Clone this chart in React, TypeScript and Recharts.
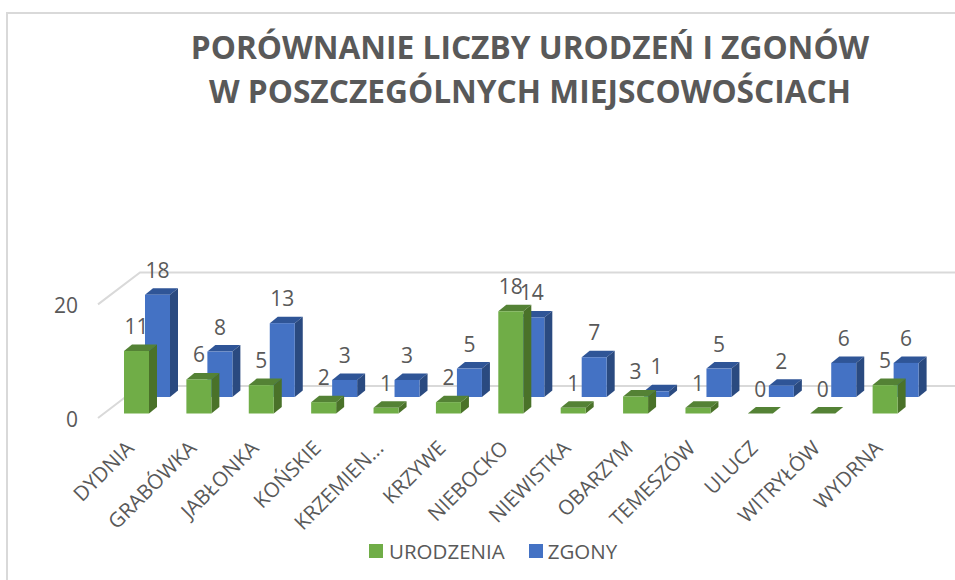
import React from "react";
import { BarChart, Bar, XAxis, YAxis, Legend, LabelList, CartesianGrid } from "recharts";

const categories = ["DYDNIA", "GRABÓWKA", "JABŁONKA", "KOŃSKIE", "KRZEMIEN...", "KRZYWE", "NIEBOCKO", "NIEWISTKA", "OBARZYM", "TEMESZÓW", "ULUCZ", "WITRYŁÓW", "WYDRNA"];
const urodzenia = [11, 6, 5, 2, 1, 2, 18, 1, 3, 1, 0, 0, 5];
const zgony = [18, 8, 13, 3, 3, 5, 14, 7, 1, 5, 2, 6, 6];
const yTicks = [0, 20];
const titleLines = ["PORÓWNANIE LICZBY URODZEŃ I ZGONÓW", "W POSZCZEGÓLNYCH MIEJSCOWOŚCIACH"];

const data = categories.map((name, i) => ({ name, URODZENIA: urodzenia[i], ZGONY: zgony[i] }));

const FONT = "'Open Sans', sans-serif";
const TEXT = "#595959";
const GRID = "#d9d9d9";
const GREEN = { front: "#70ad47", side: "#4a7229", top: "#548235" };
const BLUE = { front: "#4472c4", side: "#2a4a80", top: "#2f5597" };
const DX = 8;
const DY = 6.5;
const BLUE_SHIFT = 16.5;

const Bar3D = (colors: any, shift: number) => (p: any) => {
  const x = p.x, w = p.width, h = p.height, y = p.y - shift;
  const b = y + h;
  return (
    <g>
      <polygon points={`${x},${y} ${x + DX},${y - DY} ${x + w + DX},${y - DY} ${x + w},${y}`} fill={colors.top} />
      <polygon points={`${x + w},${y} ${x + w + DX},${y - DY} ${x + w + DX},${b - DY} ${x + w},${b}`} fill={colors.side} />
      <rect x={x} y={y} width={w} height={h} fill={colors.front} />
    </g>
  );
};

const valueLabel = (shift: number) => (p: any) => (
  <text x={p.x + p.width / 2} y={p.y - shift - 25} textAnchor="middle" dominantBaseline="central" fontFamily={FONT} fontSize={21} fill={TEXT}>
    {p.value}
  </text>
);

const gridShape = (p: any) => {
  const y = p.y1;
  return (
    <polyline key={y} points={`${p.x1 - 18},${y + 4.5} ${p.x1 + 24},${y - 27.5} ${p.x2 + 28},${y - 27.5}`} fill="none" stroke={GRID} strokeWidth={2} />
  );
};

const XTick = (p: any) => (
  <text x={p.x - 12} y={p.y + 28} textAnchor="end" fontFamily={FONT} fontSize={20.5} fill={TEXT} transform={`rotate(-45 ${p.x - 12} ${p.y + 28})`}>
    {p.payload.value}
  </text>
);

const YTick = (p: any) => (
  <text x={78} y={p.y + 5} textAnchor="end" dominantBaseline="central" fontFamily={FONT} fontSize={21} fill={TEXT}>
    {p.payload.value}
  </text>
);

const LegendContent = () => (
  <div style={{ display: "flex", alignItems: "center", fontFamily: FONT, fontSize: 20.5, color: TEXT, lineHeight: "24px" }}>
    <span style={{ width: 14, height: 14, background: GREEN.front, marginRight: 6 }} />
    <span style={{ marginRight: 24 }}>URODZENIA</span>
    <span style={{ width: 14, height: 14, background: BLUE.front, marginRight: 5 }} />
    <span>ZGONY</span>
  </div>
);

export default function App() {
  return (
    <div style={{ position: "absolute", left: 0, top: 0, width: 955, height: 580, background: "#fff", overflow: "hidden" }}>
      <div style={{ position: "absolute", left: 130, width: 800, top: 25, textAlign: "center", fontFamily: FONT, fontWeight: 700, fontSize: 31.7, lineHeight: "44px", color: TEXT, whiteSpace: "nowrap" }}>
        {titleLines.map((t) => (
          <div key={t}>{t}</div>
        ))}
      </div>
      <div style={{ position: "absolute", left: 6, top: 12, width: 949, height: 568, borderLeft: `2px solid ${GRID}`, borderTop: `2px solid ${GRID}`, boxSizing: "border-box" }} />
      <BarChart
        width={955}
        height={580}
        data={data}
        barSize={25}
        barGap={-46}
        margin={{ top: 299.9, right: 28, bottom: 42.5, left: 0 }}
        style={{ position: "absolute", left: 0, top: 0 }}
      >
        <CartesianGrid vertical={false} horizontal={gridShape} />
        <XAxis dataKey="name" height={100} axisLine={false} tickLine={false} interval={0} tick={XTick} />
        <YAxis width={116} domain={[0, 20]} ticks={yTicks} axisLine={false} tickLine={false} tick={YTick} />
        <Legend content={LegendContent} wrapperStyle={{ left: 369, top: 539, width: "auto", bottom: "auto" }} />
        <Bar dataKey="ZGONY" isAnimationActive={false} shape={Bar3D(BLUE, BLUE_SHIFT)}>
          <LabelList dataKey="ZGONY" content={valueLabel(BLUE_SHIFT)} />
        </Bar>
        <Bar dataKey="URODZENIA" isAnimationActive={false} shape={Bar3D(GREEN, 0)}>
          <LabelList dataKey="URODZENIA" content={valueLabel(0)} />
        </Bar>
      </BarChart>
    </div>
  );
}
